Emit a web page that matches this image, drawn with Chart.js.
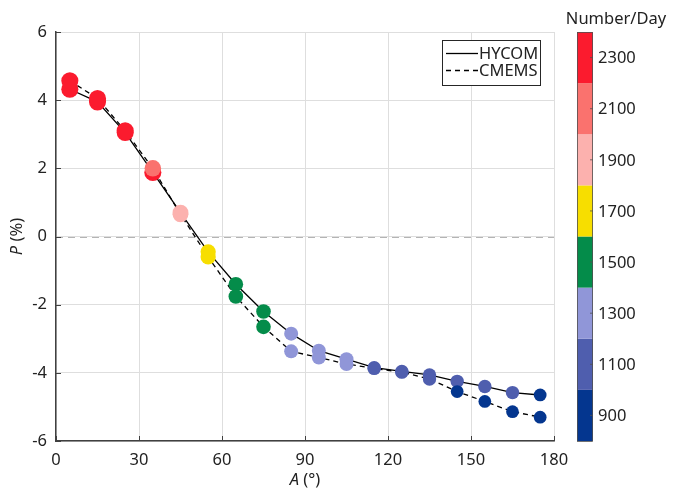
<!DOCTYPE html>
<html>
<head>
<meta charset="utf-8">
<script src="https://cdn.jsdelivr.net/npm/chart.js@4.4.1/dist/chart.umd.min.js"></script>
<style>
  html, body { margin: 0; padding: 0; background: #fff; }
  #wrap { width: 674px; height: 491px; }
</style>
</head>
<body>
<div id="wrap"><canvas id="chart" width="674" height="491"></canvas></div>
<script>
// Angle bins (degrees)
const angles = [5, 15, 25, 35, 45, 55, 65, 75, 85, 95, 105, 115, 125, 135, 145, 155, 165, 175];

// P (%) for each model
const hycomP = [4.32, 3.95, 3.05, 1.88, 0.70, -0.45, -1.40, -2.20, -2.85, -3.35, -3.60, -3.85, -3.96, -4.06, -4.25, -4.40, -4.58, -4.65];
const cmemsP = [4.57, 4.05, 3.10, 2.00, 0.65, -0.60, -1.76, -2.65, -3.37, -3.55, -3.74, -3.87, -3.98, -4.18, -4.55, -4.84, -5.14, -5.30];

// Number/Day per point (drives the point colour)
const hycomNum = [2300, 2300, 2300, 2300, 1900, 1700, 1500, 1500, 1300, 1300, 1300, 1100, 1100, 1100, 1100, 1100, 1100, 900];
const cmemsNum = [2300, 2300, 2300, 2100, 1900, 1700, 1500, 1500, 1300, 1300, 1300, 1100, 1100, 1100, 900, 900, 900, 900];

// Colour bar
const barTicks = [900, 1100, 1300, 1500, 1700, 1900, 2100, 2300];
const barColors = ['#04368f', '#4f5eae', '#9096d8', '#048c4a', '#f7de00', '#fcb1ae', '#fa726e', '#fb1b2e'];
const barMin = 800, barMax = 2400;

const xTicks = [0, 30, 60, 90, 120, 150, 180];
const yTicks = [-6, -4, -2, 0, 2, 4, 6];

const FONT = "'Segoe UI', 'Noto Sans', sans-serif";
const FS = 16.5;
const TXT = '#222';

function colorFor(n) {
  const i = Math.min(barColors.length - 1, Math.max(0, Math.floor((n - barMin) / 200)));
  return barColors[i];
}
function radiusFor(n) {
  return 5 + n / 650;
}

const pts = (ys) => angles.map((a, i) => ({ x: a, y: ys[i] }));

// draw "italic letter + plain rest" centred at (0,0) of the current transform
function mixedLabel(ctx, letter, rest, cx, cy) {
  ctx.font = 'italic ' + FS + 'px ' + FONT;
  const wa = ctx.measureText(letter).width;
  ctx.font = FS + 'px ' + FONT;
  const wr = ctx.measureText(rest).width;
  const sx = cx - (wa + wr) / 2;
  ctx.textAlign = 'left';
  ctx.font = 'italic ' + FS + 'px ' + FONT;
  ctx.fillText(letter, sx, cy);
  ctx.font = FS + 'px ' + FONT;
  ctx.fillText(rest, sx + wa, cy);
}

// Extra drawing: zero line, inward ticks, axis titles, legend, colour bar
const decorations = {
  id: 'decorations',
  beforeDatasetsDraw(chart) {
    const { ctx, chartArea: ca, scales: { x, y } } = chart;
    ctx.save();
    ctx.strokeStyle = '#b4b4b4';
    ctx.lineWidth = 1.2;
    ctx.setLineDash([7, 5]);
    ctx.beginPath();
    ctx.moveTo(ca.left, Math.round(y.getPixelForValue(0)) + 0.5);
    ctx.lineTo(ca.right, Math.round(y.getPixelForValue(0)) + 0.5);
    ctx.stroke();
    ctx.setLineDash([]);

    // inward tick marks
    ctx.strokeStyle = '#404040';
    ctx.lineWidth = 1;
    ctx.beginPath();
    xTicks.forEach(v => {
      const px = Math.round(x.getPixelForValue(v)) + 0.5;
      ctx.moveTo(px, ca.bottom);
      ctx.lineTo(px, ca.bottom - 5);
    });
    yTicks.forEach(v => {
      const py = Math.round(y.getPixelForValue(v)) + 0.5;
      ctx.moveTo(ca.left, py);
      ctx.lineTo(ca.left + 5, py);
    });
    ctx.stroke();
    ctx.restore();
  },
  afterDraw(chart) {
    const { ctx, chartArea: ca } = chart;
    ctx.save();
    ctx.fillStyle = TXT;
    ctx.textBaseline = 'middle';

    // axis titles
    mixedLabel(ctx, 'A', ' (°)', (ca.left + ca.right) / 2, 480);
    ctx.save();
    ctx.translate(17, (ca.top + ca.bottom) / 2);
    ctx.rotate(-Math.PI / 2);
    mixedLabel(ctx, 'P', ' (%)', 0, 0);
    ctx.restore();

    // legend
    const lx = 442, ly = 40, lw = 98, lh = 45;
    ctx.fillStyle = '#fff';
    ctx.fillRect(lx, ly, lw, lh);
    ctx.strokeStyle = '#262626';
    ctx.lineWidth = 1;
    ctx.strokeRect(lx + 0.5, ly + 0.5, lw, lh);
    const rows = [['HYCOM', []], ['CMEMS', [5, 4]]];
    rows.forEach((r, i) => {
      const ry = ly + 13 + i * 17;
      ctx.strokeStyle = '#000';
      ctx.lineWidth = 1.3;
      ctx.setLineDash(r[1]);
      ctx.beginPath();
      ctx.moveTo(lx + 4, ry + 0.5);
      ctx.lineTo(lx + 36, ry + 0.5);
      ctx.stroke();
      ctx.setLineDash([]);
      ctx.fillStyle = TXT;
      ctx.font = FS + 'px ' + FONT;
      ctx.textAlign = 'left';
      ctx.fillText(r[0], lx + 37, ry + 1);
    });

    // colour bar
    const bx = 577, bw = 16;
    const span = ca.bottom - ca.top;
    const toPx = v => ca.bottom - (v - barMin) / (barMax - barMin) * span;
    barColors.forEach((c, i) => {
      const lo = barMin + i * 200, hi = lo + 200;
      const y0 = toPx(hi), y1 = toPx(lo);
      ctx.fillStyle = c;
      ctx.fillRect(bx, y0, bw, y1 - y0);
    });
    ctx.strokeStyle = '#505050';
    ctx.lineWidth = 0.8;
    ctx.strokeRect(bx + 0.5, ca.top + 0.5, bw - 1, span);
    ctx.fillStyle = TXT;
    ctx.font = FS + 'px ' + FONT;
    ctx.textAlign = 'left';
    barTicks.forEach(t => {
      const py = toPx(t);
      ctx.beginPath();
      ctx.moveTo(bx + bw - 3, py);
      ctx.lineTo(bx + bw, py);
      ctx.stroke();
      ctx.fillText(String(t), 598, py + 1);
    });
    ctx.textAlign = 'center';
    ctx.fillText('Number/Day', 616, 19);
    ctx.restore();
  }
};

const ctx = document.getElementById('chart').getContext('2d');
new Chart(ctx, {
  type: 'scatter',
  data: {
    datasets: [
      {
        label: 'CMEMS points',
        data: pts(cmemsP),
        showLine: false,
        pointRadius: cmemsNum.map(radiusFor),
        pointBackgroundColor: cmemsNum.map(colorFor),
        pointBorderWidth: 0,
        order: 0
      },
      {
        label: 'HYCOM points',
        data: pts(hycomP),
        showLine: false,
        pointRadius: hycomNum.map(radiusFor),
        pointBackgroundColor: hycomNum.map(colorFor),
        pointBorderWidth: 0,
        order: 1
      },
      {
        label: 'CMEMS',
        data: pts(cmemsP),
        showLine: true,
        borderColor: '#000',
        borderWidth: 1.3,
        borderDash: [5, 4],
        pointRadius: 0,
        order: 2
      },
      {
        label: 'HYCOM',
        data: pts(hycomP),
        showLine: true,
        borderColor: '#000',
        borderWidth: 1.3,
        pointRadius: 0,
        order: 3
      }
    ]
  },
  options: {
    responsive: false,
    animation: false,
    layout: { padding: { top: 32, right: 120, left: 0, bottom: 0 } },
    plugins: { legend: { display: false }, tooltip: { enabled: false } },
    scales: {
      x: {
        type: 'linear',
        min: 0,
        max: 180,
        afterBuildTicks: s => { s.ticks = xTicks.map(v => ({ value: v })); },
        afterFit: s => { s.height = 50; },
        ticks: { color: TXT, font: { family: FONT, size: FS }, padding: 9 },
        grid: { color: '#dedede', lineWidth: 1, drawTicks: false },
        border: { color: '#404040', width: 1.5 }
      },
      y: {
        min: -6,
        max: 6,
        afterBuildTicks: s => { s.ticks = yTicks.map(v => ({ value: v })); },
        afterFit: s => { s.width = 56; },
        ticks: { color: TXT, font: { family: FONT, size: FS }, padding: 9 },
        grid: { color: '#dedede', lineWidth: 1, drawTicks: false },
        border: { color: '#404040', width: 1.5 }
      }
    }
  },
  plugins: [decorations]
});
</script>
</body>
</html>
